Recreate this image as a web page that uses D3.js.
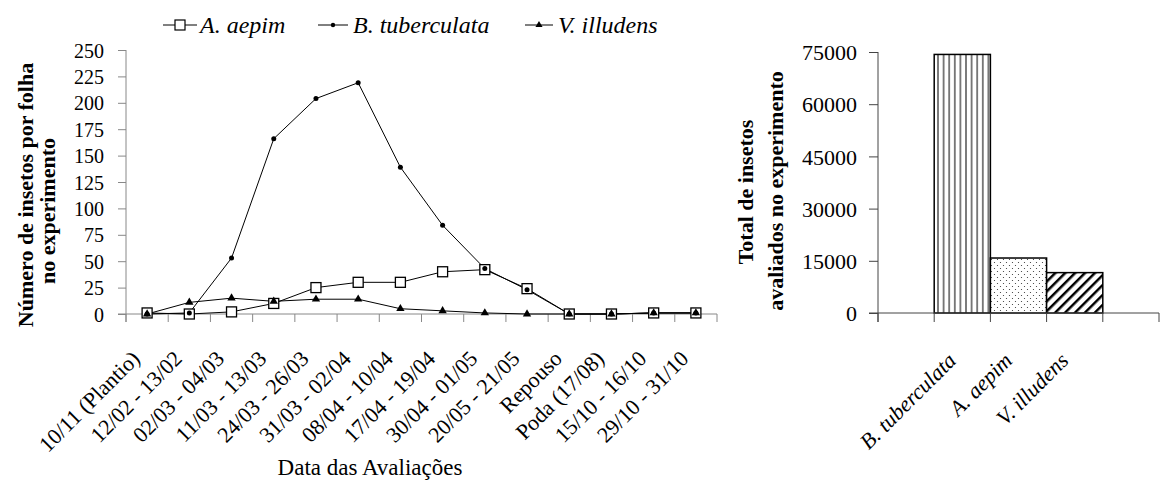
<!DOCTYPE html>
<html>
<head>
<meta charset="utf-8">
<script src="https://cdn.jsdelivr.net/npm/d3@7"></script>
<style>
  body { margin: 0; background: #fff; }
  svg text { font-family: "Liberation Serif", "DejaVu Serif", serif; }
</style>
</head>
<body>
<svg id="chart"></svg>
<script>
// Data
const categories = ['10/11 (Plantio)', '12/02 - 13/02', '02/03 - 04/03', '11/03 - 13/03', '24/03 - 26/03',
    '31/03 - 02/04', '08/04 - 10/04', '17/04 - 19/04', '30/04 - 01/05', '20/05 - 21/05',
    'Repouso', 'Poda (17/08)', '15/10 - 16/10', '29/10 - 31/10'];
const aepim = [1, 0, 2, 10, 25, 30, 30, 40, 42, 24, 0, 0, 1, 1];
const tuberculata = [0, 1, 53, 166, 204, 219, 139, 84, 43, 23, 0, 0, 1, 1];
const illudens = [0, 11, 15, 12, 14, 14, 5, 3, 1, 0, 0, 0, 1, 1];
const yTicks = [0, 25, 50, 75, 100, 125, 150, 175, 200, 225, 250];

const totalSpecies = ['B. tuberculata', 'A. aepim', 'V. illudens'];
const totals = [74300, 15800, 11600];
const totalTicks = [0, 15000, 30000, 45000, 60000, 75000];

const svg = d3.select('#chart').attr('width', 1161).attr('height', 482);

// Patterns for the bars
const defs = svg.append('defs');
const pStripe = defs.append('pattern').attr('id', 'p-vert')
    .attr('patternUnits', 'userSpaceOnUse').attr('width', 5.6).attr('height', 10);
pStripe.append('rect').attr('width', 5.6).attr('height', 10).attr('fill', '#fff');
pStripe.append('line').attr('x1', 2.8).attr('x2', 2.8).attr('y1', 0).attr('y2', 10)
    .attr('stroke', '#000').attr('stroke-width', 1);

const pDots = defs.append('pattern').attr('id', 'p-dots')
    .attr('patternUnits', 'userSpaceOnUse').attr('width', 6).attr('height', 6);
pDots.append('rect').attr('width', 6).attr('height', 6).attr('fill', '#fff');
pDots.append('circle').attr('cx', 1.5).attr('cy', 1.5).attr('r', 0.6).attr('fill', '#333');
pDots.append('circle').attr('cx', 4.5).attr('cy', 4.5).attr('r', 0.6).attr('fill', '#333');

const pDiag = defs.append('pattern').attr('id', 'p-diag')
    .attr('patternUnits', 'userSpaceOnUse').attr('width', 7).attr('height', 7)
    .attr('patternTransform', 'rotate(45)');
pDiag.append('rect').attr('width', 7).attr('height', 7).attr('fill', '#fff');
pDiag.append('line').attr('x1', 0).attr('x2', 0).attr('y1', 0).attr('y2', 7)
    .attr('stroke', '#000').attr('stroke-width', 5);

const fills = { 'B. tuberculata': 'url(#p-vert)', 'A. aepim': 'url(#p-dots)', 'V. illudens': 'url(#p-diag)' };

// ---------- Left chart ----------
const x = d3.scaleBand().domain(categories).range([126, 717]);
const y = d3.scaleLinear().domain([0, 250]).range([314, 50]);
const axisGrey = '#888';

const gy = svg.append('g')
    .attr('transform', `translate(${x.range()[0]},0)`)
    .call(d3.axisLeft(y).tickValues(yTicks).tickSize(8).tickPadding(14));
gy.select('.domain').remove();
gy.selectAll('line').attr('stroke', axisGrey);
gy.selectAll('text').style('font-size', '20px').attr('dy', '0.35em');

svg.append('line')
    .attr('x1', x.range()[0]).attr('x2', x.range()[0])
    .attr('y1', y(250)).attr('y2', y(0) + 8)
    .attr('stroke', axisGrey);

svg.append('line')
    .attr('x1', x.range()[0] - 8).attr('x2', x.range()[1])
    .attr('y1', y(0)).attr('y2', y(0))
    .attr('stroke', axisGrey);

// ticks at the band boundaries
svg.selectAll('.xtick')
    .data(categories.map(c => x(c)).concat([x.range()[1]]))
    .enter()
    .append('line')
    .attr('class', 'xtick')
    .attr('x1', d => d).attr('x2', d => d)
    .attr('y1', y(0)).attr('y2', y(0) + 8)
    .attr('stroke', axisGrey);

const gx = svg.append('g')
    .attr('transform', `translate(0,${y(0)})`)
    .call(d3.axisBottom(x).tickSize(0));
gx.select('.domain').remove();
gx.selectAll('text')
    .attr('x', 0).attr('y', 0).attr('dy', 0)
    .attr('text-anchor', 'end')
    .attr('transform', 'translate(-6,46) rotate(-45)')
    .style('font-size', '22px');

// Lines
const cx = i => x(categories[i]) + x.bandwidth() / 2;
const line = d3.line().x((d, i) => cx(i)).y(d => y(d));
[aepim, tuberculata, illudens].forEach(s => {
    svg.append('path')
        .attr('d', line(s))
        .attr('fill', 'none')
        .attr('stroke', '#000')
        .attr('stroke-width', 1);
});

// Markers
const sq = 10;
svg.selectAll('.m-aepim')
    .data(aepim)
    .enter()
    .append('rect')
    .attr('class', 'm-aepim')
    .attr('x', (d, i) => cx(i) - sq / 2)
    .attr('y', d => y(d) - sq / 2)
    .attr('width', sq).attr('height', sq)
    .attr('fill', '#fff').attr('stroke', '#000').attr('stroke-width', 1.3);

svg.selectAll('.m-tub')
    .data(tuberculata)
    .enter()
    .append('circle')
    .attr('class', 'm-tub')
    .attr('cx', (d, i) => cx(i))
    .attr('cy', d => y(d))
    .attr('r', 2.5)
    .attr('fill', '#000');

const tri = d3.symbol().type(d3.symbolTriangle).size(30);
svg.selectAll('.m-ill')
    .data(illudens)
    .enter()
    .append('path')
    .attr('class', 'm-ill')
    .attr('d', tri)
    .attr('transform', (d, i) => `translate(${cx(i)},${y(d)})`)
    .attr('fill', '#000');

// Axis titles
svg.append('text')
    .attr('x', 370)
    .attr('y', 467)
    .attr('text-anchor', 'middle')
    .attr('dy', '0.35em')
    .style('font-size', '23px')
    .text('Data das Avaliações');

svg.append('text')
    .attr('transform', 'translate(25,195) rotate(-90)')
    .attr('text-anchor', 'middle')
    .attr('dy', '0.35em')
    .style('font-size', '22px').style('font-weight', 'bold')
    .text('Número de insetos por folha');
svg.append('text')
    .attr('transform', 'translate(47,211) rotate(-90)')
    .attr('text-anchor', 'middle')
    .attr('dy', '0.35em')
    .style('font-size', '22px').style('font-weight', 'bold')
    .text('no experimento');

// Legend
const legend = [
    { name: 'A. aepim', x0: 163, x1: 197, tx: 200 },
    { name: 'B. tuberculata', x0: 318, x1: 348, tx: 353 },
    { name: 'V. illudens', x0: 525, x1: 553, tx: 558 }
];
const ly = 25;
legend.forEach((l, i) => {
    svg.append('line').attr('x1', l.x0).attr('x2', l.x1).attr('y1', ly).attr('y2', ly)
        .attr('stroke', '#000');
    const mx = (l.x0 + l.x1) / 2;
    if (i === 0) {
        svg.append('rect').attr('x', mx - 5).attr('y', ly - 5).attr('width', 10).attr('height', 10)
            .attr('fill', '#fff').attr('stroke', '#000').attr('stroke-width', 1.2);
    } else if (i === 1) {
        svg.append('circle').attr('cx', mx).attr('cy', ly).attr('r', 2.2).attr('fill', '#000');
    } else {
        svg.append('path').attr('d', d3.symbol().type(d3.symbolTriangle).size(22))
            .attr('transform', `translate(${mx},${ly})`).attr('fill', '#000');
    }
    svg.append('text')
        .attr('x', l.tx).attr('y', ly)
        .attr('dy', '0.33em')
        .style('font-size', '24px').style('font-style', 'italic')
        .text(l.name);
});

// ---------- Right chart ----------
const rx0 = 878, rx1 = 1159;
const step = (rx1 - rx0) / (totalSpecies.length + 2);
const xb = d3.scaleBand().domain(totalSpecies).range([rx0 + step, rx1 - step]);
const yb = d3.scaleLinear().domain([0, 75000]).range([313, 52]);
const axisDark = '#444';

const gyb = svg.append('g')
    .attr('transform', `translate(${rx0},0)`)
    .call(d3.axisLeft(yb).tickValues(totalTicks).tickFormat(d3.format('d')).tickSize(9).tickPadding(12));
gyb.select('.domain').remove();
gyb.selectAll('line').attr('stroke', axisDark);
gyb.selectAll('text').style('font-size', '22px').attr('dy', '0.35em');

svg.append('line')
    .attr('x1', rx0).attr('x2', rx0)
    .attr('y1', yb(75000)).attr('y2', yb(0) + 9)
    .attr('stroke', axisDark);

svg.selectAll('.bar')
    .data(totals)
    .enter()
    .append('rect')
    .attr('class', 'bar')
    .attr('x', (d, i) => xb(totalSpecies[i]))
    .attr('y', d => yb(d))
    .attr('width', xb.bandwidth())
    .attr('height', d => yb(0) - yb(d))
    .attr('fill', (d, i) => fills[totalSpecies[i]])
    .attr('stroke', '#000')
    .attr('stroke-width', 1.5);

svg.append('line')
    .attr('x1', rx0 - 9).attr('x2', rx1)
    .attr('y1', yb(0)).attr('y2', yb(0))
    .attr('stroke', axisDark);

const bounds = [xb.range()[0] - xb.step()]
    .concat(totalSpecies.map(s => xb(s)))
    .concat([xb.range()[1], xb.range()[1] + xb.step()]);
svg.selectAll('.btick')
    .data(bounds)
    .enter()
    .append('line')
    .attr('class', 'btick')
    .attr('x1', d => d).attr('x2', d => d)
    .attr('y1', yb(0)).attr('y2', yb(0) + 9)
    .attr('stroke', axisDark);

const gxb = svg.append('g')
    .attr('transform', `translate(0,${yb(0)})`)
    .call(d3.axisBottom(xb).tickSize(0));
gxb.select('.domain').remove();
gxb.selectAll('text')
    .attr('x', 0).attr('y', 0).attr('dy', 0)
    .attr('text-anchor', 'end')
    .attr('transform', 'translate(-5,49) rotate(-45)')
    .style('font-size', '22px').style('font-style', 'italic');

svg.append('text')
    .attr('transform', 'translate(745,192) rotate(-90)')
    .attr('text-anchor', 'middle')
    .attr('dy', '0.35em')
    .style('font-size', '22px').style('font-weight', 'bold')
    .text('Total de insetos');
svg.append('text')
    .attr('transform', 'translate(775,191) rotate(-90)')
    .attr('text-anchor', 'middle')
    .attr('dy', '0.35em')
    .style('font-size', '22px').style('font-weight', 'bold')
    .text('avaliados no experimento');

svg.selectAll('g').attr('font-family', null);
svg.selectAll('text').attr('fill', '#000');
</script>
</body>
</html>
